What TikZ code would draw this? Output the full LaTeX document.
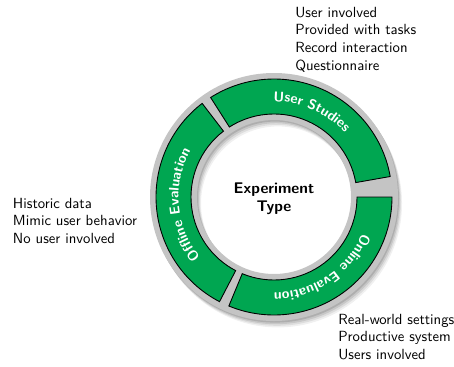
\documentclass[tikz,border=0pt]{standalone}
\usetikzlibrary{decorations.text}
\definecolor{seggreen}{RGB}{0,166,81}
\definecolor{ringgray}{RGB}{196,196,196}
\tikzset{
  seg/.style={fill=seggreen, draw=black, line width=0.6pt},
  seglabel/.style={decorate, decoration={text along path, text align=center, text color=white}},
  listtext/.style={anchor=base west, align=left, inner sep=0pt, font=\sffamily},
  centertext/.style={align=center, inner sep=0pt, font=\sffamily\bfseries\fontsize{10.5}{12}\selectfont},
}
\begin{document}
\begin{tikzpicture}[x=0.68pt,y=0.68pt]
\useasboundingbox (0,0) rectangle (454,366);
\coordinate (C) at (274,169);
\begin{scope}[shift={(C)}]
  % soft drop shadow of the ring
  \foreach \d/\o in {1/0.12, 2/0.10, 3/0.08, 4/0.06} {
    \fill[black, opacity=\o, even odd rule] (\d,{-1.6*\d}) circle[radius=124] (\d,{-1.6*\d}) circle[radius=77];
  }
  \fill[ringgray, even odd rule] (0,0) circle[radius=124] (0,0) circle[radius=77];
  % segments
  \draw[seg] (122.5:118) arc[start angle=122.5, end angle=10, radius=118] -- (10:83) arc[start angle=10, end angle=122.5, radius=83] -- cycle;
  \draw[seg] (0:118) arc[start angle=0, end angle=-112.5, radius=118] -- (-112.5:83) arc[start angle=-112.5, end angle=0, radius=83] -- cycle;
  \draw[seg] (242.5:118) arc[start angle=242.5, end angle=127.5, radius=118] -- (127.5:83) arc[start angle=127.5, end angle=242.5, radius=83] -- cycle;
  % curved labels
  \path[seglabel, decoration={text={|\sffamily\bfseries\fontsize{9.5}{11}\selectfont|User Studies}}]
    (120:95.5) arc[start angle=120, end angle=12.5, radius=95.5];
  \path[seglabel, decoration={text={|\sffamily\bfseries\fontsize{9.5}{11}\selectfont|Online Evaluation}}]
    (-2.5:95.5) arc[start angle=-2.5, end angle=-110, radius=95.5];
  \path[seglabel, decoration={text={|\sffamily\bfseries\fontsize{9.5}{11}\selectfont|Offline Evaluation}}]
    (240:95.5) arc[start angle=240, end angle=130, radius=95.5];
\end{scope}
\node[centertext] (center) at (274,167) {Experiment\\Type};
\node[listtext] (userlist) at (295,296) {User involved\\Provided with tasks\\Record interaction\\Questionnaire};
\node[listtext] (offlist) at (12.7,122.7) {Historic data\\Mimic user behavior\\No user involved};
\node[listtext] (onlist) at (338,6.7) {Real-world settings\\Productive system\\Users involved};
\end{tikzpicture}
\end{document}
